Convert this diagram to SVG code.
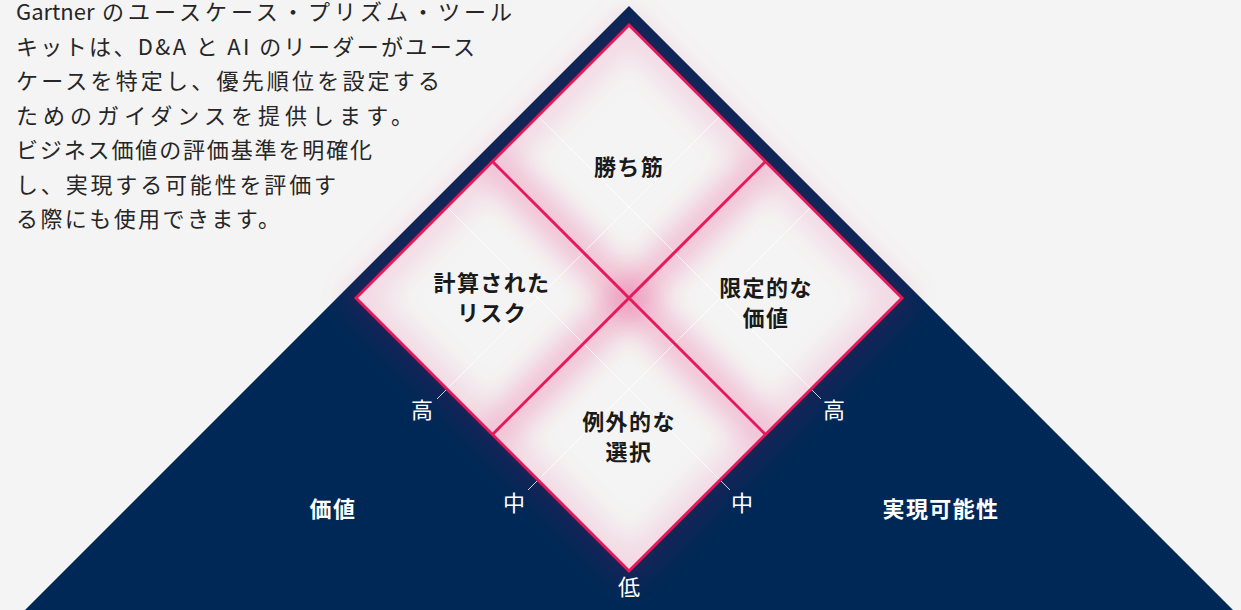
<svg xmlns="http://www.w3.org/2000/svg" width="1241" height="610" viewBox="0 0 1241 610">
<style>
.desc{font-family:"Noto Sans CJK JP","Noto Sans",sans-serif;font-size:22px;fill:#262626;}
.lbl{font-family:"Noto Sans CJK JP","Noto Sans",sans-serif;font-size:22px;font-weight:700;fill:#1a1a1a;text-anchor:middle;letter-spacing:1.4px;}
.wl{font-family:"Noto Sans CJK JP","Noto Sans",sans-serif;font-size:22px;font-weight:700;fill:#ffffff;text-anchor:middle;letter-spacing:1.4px;}
.sc{font-family:"Noto Sans CJK JP","Noto Sans",sans-serif;font-size:22px;fill:#ffffff;text-anchor:middle;}
.pink{fill:none;stroke:#e6195b;stroke-width:3;}
.glowin{fill:none;stroke:#e6195b;stroke-width:36;stroke-opacity:0.11;filter:url(#blur);}
.grid{stroke:#ffffff;stroke-width:1;stroke-opacity:0.75;}
.tick{stroke:#c9d0dc;stroke-width:1;}
</style>
<defs>
<filter id="blur" x="-30%" y="-30%" width="160%" height="160%"><feGaussianBlur stdDeviation="13"/></filter>
<clipPath id="cd"><polygon points="629,25 902,298 629,571 356,298"/></clipPath>
</defs>
<rect x="0" y="0" width="1241" height="610" fill="#f4f4f4"/>
<polygon points="629,6 9,626 1249,626" fill="#002856"/>
<polygon points="629,25 902,298 629,571 356,298" fill="none" stroke="#e6195b" stroke-width="22" stroke-opacity="0.14" filter="url(#blur)"/>
<polygon points="629,25 902,298 629,571 356,298" fill="#f4f4f4"/>

<g clip-path="url(#cd)">
<polygon class="glowin" points="629,25 765.5,161.5 629,298 492.5,161.5"/>
<polygon class="glowin" points="492.5,161.5 629,298 492.5,434.5 356,298"/>
<polygon class="glowin" points="765.5,161.5 902,298 765.5,434.5 629,298"/>
<polygon class="glowin" points="629,298 765.5,434.5 629,571 492.5,434.5"/>
<line class="grid" x1="447" y1="389" x2="720" y2="116"/>
<line class="grid" x1="538" y1="480" x2="811" y2="207"/>
<line class="grid" x1="811" y1="389" x2="538" y2="116"/>
<line class="grid" x1="720" y1="480" x2="447" y2="207"/>
</g>

<g id="connectors">
<polygon class="pink" points="629,25 902,298 629,571 356,298"/>
<line class="pink" x1="492.5" y1="161.5" x2="765.5" y2="434.5"/>
<line class="pink" x1="765.5" y1="161.5" x2="492.5" y2="434.5"/>
<line class="tick" x1="446" y1="390" x2="437" y2="399"/>
<line class="tick" x1="537" y1="481" x2="528" y2="490"/>
<line class="tick" x1="812" y1="390" x2="821" y2="399"/>
<line class="tick" x1="721" y1="481" x2="730" y2="490"/>
</g>

<g id="description">
<text class="desc" x="16" y="20">Gartner</text>
<text class="desc" x="102" y="20" textLength="410" lengthAdjust="spacing">のユースケース・プリズム・ツール</text>
<text class="desc" x="16" y="54.5" textLength="459" lengthAdjust="spacing">キットは、D&amp;A と AI のリーダーがユース</text>
<text class="desc" x="16" y="89" textLength="424" lengthAdjust="spacing">ケースを特定し、優先順位を設定する</text>
<text class="desc" x="16" y="123.5" textLength="397" lengthAdjust="spacing">ためのガイダンスを提供します。</text>
<text class="desc" x="16" y="158" textLength="356" lengthAdjust="spacing">ビジネス価値の評価基準を明確化</text>
<text class="desc" x="16" y="192.5" textLength="320" lengthAdjust="spacing">し、実現する可能性を評価す</text>
<text class="desc" x="16" y="227" textLength="264" lengthAdjust="spacing">る際にも使用できます。</text>
</g>

<g id="node-winning">
<text class="lbl" x="629" y="175">勝ち筋</text>
</g>
<g id="node-calculated-risk">
<text class="lbl" x="492" y="291">計算された</text>
<text class="lbl" x="492" y="321">リスク</text>
</g>
<g id="node-limited-value">
<text class="lbl" x="766" y="296">限定的な</text>
<text class="lbl" x="766" y="326">価値</text>
</g>
<g id="node-exceptional">
<text class="lbl" x="629" y="430">例外的な</text>
<text class="lbl" x="629" y="460">選択</text>
</g>

<g id="axis-labels">
<text class="sc" x="422" y="418">高</text>
<text class="sc" x="834" y="418">高</text>
<text class="sc" x="514" y="511">中</text>
<text class="sc" x="742" y="511">中</text>
<text class="sc" x="629" y="595">低</text>
<text class="wl" x="333" y="517">価値</text>
<text class="wl" x="941" y="517">実現可能性</text>
</g>
</svg>
